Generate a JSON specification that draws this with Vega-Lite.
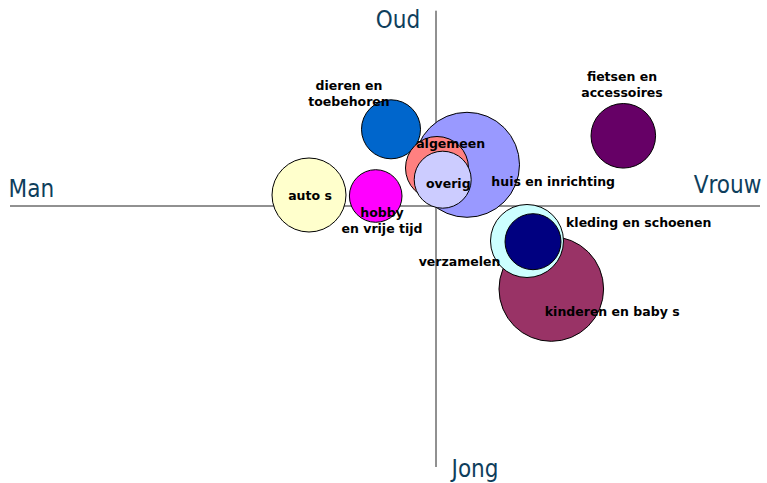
{
  "$schema": "https://vega.github.io/schema/vega-lite/v6.json",
  "width": 767,
  "height": 483,
  "autosize": {"type": "none"},
  "padding": 0,
  "background": "white",
  "config": {"view": {"stroke": null}},
  "datasets": {
    "bubbles": [
      {"categorie": "kinderen en baby s", "x": 115.3, "y": -83, "omvang": 10941, "label": "kinderen en baby s", "lx": 176.2, "ly": -106.3},
      {"categorie": "verzamelen", "x": 91, "y": -35, "omvang": 5329, "label": "verzamelen", "lx": 23.5, "ly": -56.3},
      {"categorie": "kleding en schoenen", "x": 97, "y": -35.7, "omvang": 3136, "label": "kleding en schoenen", "lx": 202.7, "ly": -16.7},
      {"categorie": "huis en inrichting", "x": 31, "y": 41.2, "omvang": 11025, "label": "huis en inrichting", "lx": 117.2, "ly": 24.3},
      {"categorie": "dieren en toebehoren", "x": -45, "y": 76.7, "omvang": 3481, "label": "dieren en\ntoebehoren", "lx": -87, "ly": 120.3},
      {"categorie": "algemeen", "x": 1, "y": 38, "omvang": 3969, "label": "algemeen", "lx": 14.7, "ly": 61.7},
      {"categorie": "overig", "x": 6.7, "y": 26.3, "omvang": 3249, "label": "overig", "lx": 12.3, "ly": 22},
      {"categorie": "auto s", "x": -127, "y": 11, "omvang": 5476, "label": "auto s", "lx": -126, "ly": 10.3},
      {"categorie": "hobby en vrije tijd", "x": -60.3, "y": 10, "omvang": 2767, "label": "hobby\nen vrije tijd", "lx": -54, "ly": -6.7},
      {"categorie": "fietsen en accessoires", "x": 187.3, "y": 70.2, "omvang": 4173, "label": "fietsen en\naccessoires", "lx": 186, "ly": 129.3}
    ],
    "assen": [
      {"x": -426, "x2": 324, "y": 0, "y2": 0},
      {"x": 0, "x2": 0, "y": 195.3, "y2": -261}
    ],
    "polen": [
      {"tekst": "Oud", "x": -38, "y": 177.7},
      {"tekst": "Jong", "x": 39, "y": -270.7},
      {"tekst": "Man", "x": -404.7, "y": 9.3},
      {"tekst": "Vrouw", "x": 291.5, "y": 12.7}
    ]
  },
  "layer": [
    {
      "data": {"name": "assen"},
      "mark": {"type": "rule", "color": "#222222", "strokeWidth": 1},
      "encoding": {
        "x": {"field": "x", "type": "quantitative", "scale": {"domain": [-436, 331], "nice": false, "zero": false}, "axis": null},
        "x2": {"field": "x2"},
        "y": {"field": "y", "type": "quantitative", "scale": {"domain": [-277, 206], "nice": false, "zero": false}, "axis": null},
        "y2": {"field": "y2"}
      }
    },
    {
      "data": {"name": "bubbles"},
      "mark": {"type": "point", "shape": "circle", "filled": true, "opacity": 1, "stroke": "#000000", "strokeWidth": 1},
      "encoding": {
        "x": {"field": "x", "type": "quantitative", "scale": {"domain": [-436, 331], "nice": false, "zero": false}, "axis": null},
        "y": {"field": "y", "type": "quantitative", "scale": {"domain": [-277, 206], "nice": false, "zero": false}, "axis": null},
        "size": {"field": "omvang", "type": "quantitative", "scale": null, "legend": null},
        "color": {
          "field": "categorie", "type": "nominal", "legend": null,
          "scale": {
            "domain": ["kinderen en baby s", "verzamelen", "kleding en schoenen", "huis en inrichting", "dieren en toebehoren", "algemeen", "overig", "auto s", "hobby en vrije tijd", "fietsen en accessoires"],
            "range": ["#993366", "#CCFFFF", "#000080", "#9999FF", "#0066CC", "#FF8080", "#CCCCFF", "#FFFFCC", "#FF00FF", "#660066"]
          }
        }
      }
    },
    {
      "data": {"name": "bubbles"},
      "mark": {"type": "text", "font": "DejaVu Sans", "fontWeight": "bold", "fontSize": 12.5, "color": "#000000", "align": "center", "baseline": "middle", "lineBreak": "\n", "lineHeight": 16},
      "encoding": {
        "x": {"field": "lx", "type": "quantitative", "scale": {"domain": [-436, 331], "nice": false, "zero": false}, "axis": null},
        "y": {"field": "ly", "type": "quantitative", "scale": {"domain": [-277, 206], "nice": false, "zero": false}, "axis": null},
        "text": {"field": "label", "type": "nominal"}
      }
    },
    {
      "data": {"name": "polen"},
      "mark": {"type": "text", "font": "DejaVu Sans Condensed, Liberation Sans", "fontSize": 24, "color": "#0E3E5C", "align": "center", "baseline": "alphabetic"},
      "encoding": {
        "x": {"field": "x", "type": "quantitative", "scale": {"domain": [-436, 331], "nice": false, "zero": false}, "axis": null},
        "y": {"field": "y", "type": "quantitative", "scale": {"domain": [-277, 206], "nice": false, "zero": false}, "axis": null},
        "text": {"field": "tekst", "type": "nominal"}
      }
    }
  ]
}
